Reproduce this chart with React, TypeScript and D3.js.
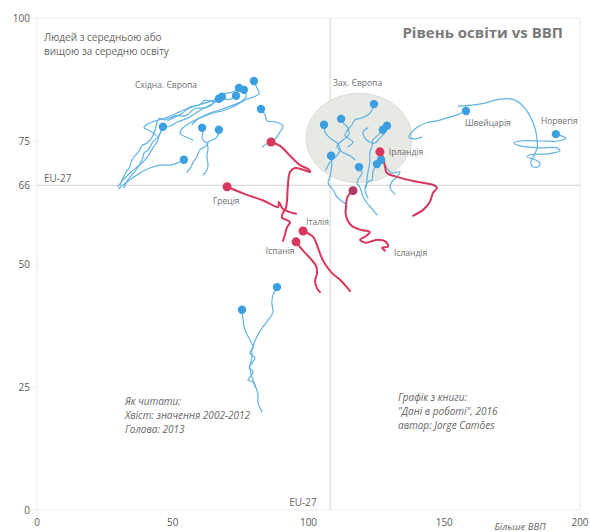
import React from "react";
import * as d3 from "d3";

type Pt = [number, number];

const xTicks = [0, 50, 100, 150, 200];
const yTicks = [0, 25, 50, 66, 75, 100];
const euGdp = 108;
const euEdu = 66;

// Red series (head = 2013 first, then tail 2012 -> 2002)
const greece: Pt[] = [[70.0, 65.7], [76.6, 64.2], [82.9, 63.0], [88.8, 61.6], [89.1, 62.6], [90.6, 61.2], [95.4, 60.2]];
const redOther: Pt[] = [[86.2, 74.8], [89.5, 74.0], [93.2, 72.0], [96.9, 70.1], [99.8, 69.3], [100.6, 68.7], [98.3, 69.1], [95.0, 69.5], [93.2, 68.7], [92.4, 65.9], [92.1, 63.0], [91.7, 61.4], [90.6, 60.4], [90.2, 59.4], [91.7, 59.0], [93.2, 58.5], [92.1, 57.5], [91.3, 55.9], [90.6, 54.7]];
const italy: Pt[] = [[98.0, 56.7], [101.7, 55.5], [103.5, 53.3], [104.6, 51.6], [106.1, 50.0], [108.6, 48.2], [111.6, 46.8], [113.8, 45.5], [115.3, 44.5]];
const spain: Pt[] = [[95.4, 54.5], [98.0, 52.7], [100.9, 51.0], [102.8, 49.6], [103.1, 48.0], [102.4, 46.6], [103.1, 45.1], [104.2, 44.3]];
const iceland: Pt[] = [[116.4, 64.9], [114.5, 63.8], [113.8, 61.8], [113.8, 59.8], [116.0, 57.7], [119.7, 56.9], [122.6, 56.5], [121.2, 55.7], [119.0, 54.9], [121.2, 54.3], [124.9, 54.9], [128.5, 54.5], [129.3, 53.5], [127.1, 53.3], [128.2, 52.7]];
const ireland: Pt[] = [[126.3, 72.8], [127.4, 71.8], [128.2, 69.7], [128.9, 68.5], [132.6, 67.7], [140.0, 66.7], [145.8, 66.1], [147.3, 65.5], [145.8, 64.4], [144.7, 62.6], [142.2, 61.0], [138.5, 59.8]];

// Blue series: Eastern Europe
const east1: Pt[] = [[79.9, 87.2], [81.0, 85.8], [81.8, 84.6], [79.9, 84.0], [77.0, 83.4], [74.0, 82.5], [71.1, 81.7], [68.1, 81.1], [64.8, 80.7], [61.9, 80.1], [58.9, 79.3], [57.1, 78.3]];
const east2: Pt[] = [[74.4, 85.8], [72.2, 85.0], [69.2, 84.6], [65.2, 83.0], [62.0, 83.3], [60.0, 82.4], [56.4, 81.9], [53.4, 80.6], [50.8, 79.9], [48.2, 79.1]];
const east3: Pt[] = [[76.2, 85.4], [77.0, 84.0], [74.8, 82.9], [71.1, 82.1], [67.4, 81.3], [63.7, 80.7], [60.0, 79.7], [56.4, 78.7], [53.8, 77.7], [52.7, 76.6], [54.9, 75.8], [57.5, 75.2]];
const east4: Pt[] = [[73.3, 84.2], [70.3, 83.4], [67.5, 83.8], [64.0, 82.2], [61.9, 81.7], [58.2, 81.6], [55.0, 80.2], [50.8, 80.1], [47.1, 79.3], [45.0, 79.6], [43.5, 77.3], [42.4, 75.8], [40.5, 74.6], [38.5, 74.0], [37.9, 73.2], [35.0, 71.2], [34.0, 69.5], [32.8, 68.7], [30.6, 66.1]];
const east5: Pt[] = [[68.1, 84.0], [65.6, 83.4], [61.9, 82.7], [58.2, 82.1], [54.1, 81.3], [50.8, 80.5], [47.5, 79.7], [43.8, 79.1], [40.9, 78.5], [39.4, 77.7], [41.6, 77.1], [43.8, 76.2]];
const east6: Pt[] = [[67.0, 83.6], [64.5, 82.5], [61.5, 81.7], [58.6, 80.7], [55.6, 79.7], [51.9, 78.9], [48.2, 77.9], [46.5, 78.2], [45.3, 76.4], [42.7, 74.8], [40.9, 73.2], [39.5, 72.6], [38.7, 71.2], [36.5, 69.1], [33.5, 67.1], [32.0, 65.5]];
const east7: Pt[] = [[82.5, 81.5], [84.0, 80.3], [84.7, 79.1], [87.7, 78.9], [90.6, 78.1], [89.5, 76.8], [87.7, 75.4], [85.1, 74.6], [82.9, 73.8]];
const east8: Pt[] = [[46.4, 77.9], [45.3, 76.6], [44.2, 74.8], [42.7, 73.6], [41.6, 72.6], [40.5, 71.6], [39.0, 70.7], [36.8, 69.7], [34.3, 68.5], [31.7, 67.1], [29.8, 65.7]];
const east9: Pt[] = [[54.1, 71.2], [51.6, 70.5], [49.0, 70.1], [45.3, 70.1], [41.6, 69.5], [37.9, 68.5], [34.3, 67.1], [31.7, 66.1], [30.2, 65.3]];
const east10: Pt[] = [[60.8, 77.7], [61.1, 76.6], [60.8, 75.6], [61.9, 74.8], [63.0, 74.6], [61.9, 73.8], [60.0, 73.2], [58.9, 71.8], [57.5, 70.7], [56.7, 69.7], [55.2, 68.7]];
const east11: Pt[] = [[67.0, 77.3], [66.3, 75.8], [64.5, 75.2], [62.6, 74.6], [63.0, 73.6], [62.6, 71.8], [63.0, 69.9], [62.2, 68.7], [61.1, 68.1]];
const low1: Pt[] = [[88.4, 45.3], [86.9, 43.7], [86.5, 42.1], [86.9, 40.1], [85.1, 38.6], [82.9, 37.0], [81.0, 35.2], [79.2, 32.5], [79.2, 31.1], [78.4, 29.1], [79.2, 27.0], [80.3, 25.4], [81.4, 23.4], [81.4, 21.8], [82.9, 19.9]];
const low2: Pt[] = [[75.5, 40.7], [75.9, 38.6], [76.6, 36.6], [78.4, 34.6], [79.6, 33.1], [78.4, 31.9], [80.3, 30.9], [79.2, 29.9], [78.1, 28.9], [79.6, 28.1], [78.4, 27.0], [77.7, 26.4], [79.6, 26.0], [80.3, 25.0]];

// Blue series: Western Europe
const west1: Pt[] = [[124.1, 82.5], [123.4, 81.3], [121.9, 80.3], [119.7, 79.7], [117.1, 79.3], [116.0, 78.3], [114.5, 77.3], [113.4, 76.2], [114.5, 75.6], [116.4, 74.8], [114.5, 73.8]];
const west2: Pt[] = [[112.0, 79.5], [113.1, 78.5], [114.5, 77.7], [114.9, 76.4], [112.7, 75.2], [110.5, 74.0], [112.3, 72.8], [115.3, 72.0], [117.1, 71.2]];
const west3: Pt[] = [[105.7, 78.3], [106.1, 76.8], [107.9, 75.6], [110.5, 74.6], [111.6, 73.2], [110.1, 71.8], [107.9, 70.7], [106.4, 69.1]];
const west4: Pt[] = [[108.3, 72.0], [108.6, 70.3], [107.9, 67.7], [107.2, 66.5], [109.0, 65.1], [110.5, 63.6], [112.7, 62.6], [114.2, 61.8], [113.4, 60.6]];
const west5: Pt[] = [[118.6, 69.7], [119.7, 68.5], [118.2, 67.1], [117.9, 66.3], [119.0, 65.5], [120.1, 63.6], [121.5, 62.4], [123.7, 61.0], [125.2, 60.0]];
const west6: Pt[] = [[125.2, 70.3], [123.7, 68.7], [123.4, 67.1], [121.9, 66.7], [120.8, 65.1], [121.9, 63.4]];
const west7: Pt[] = [[126.7, 71.2], [128.2, 70.1], [130.0, 68.7], [131.1, 68.5], [133.7, 68.7], [132.6, 67.7], [130.7, 66.7], [130.0, 65.5], [131.9, 64.2]];
const west8: Pt[] = [[128.9, 78.1], [128.2, 76.8], [126.3, 75.6], [124.5, 74.6], [122.6, 74.8], [120.8, 75.6], [120.1, 76.8], [121.9, 77.7]];
const west9: Pt[] = [[127.4, 77.3], [125.6, 76.2], [123.7, 75.2], [123.4, 73.8], [122.6, 72.8], [122.6, 70.7], [121.9, 68.7], [121.5, 67.1], [121.2, 65.5]];
const switzerland: Pt[] = [[158.0, 81.1], [154.7, 80.3], [151.0, 79.7], [147.3, 79.1], [143.6, 78.7], [140.3, 77.9], [138.1, 76.8], [137.0, 75.8], [138.9, 75.4], [141.8, 75.8]];
const norway: Pt[] = [[191.1, 76.4], [193.4, 76.0], [194.8, 75.6], [191.9, 75.0], [185.3, 75.0], [177.9, 75.0], [175.7, 74.6], [177.9, 74.0], [185.3, 73.6], [191.5, 73.6], [192.6, 73.0], [188.2, 72.4], [181.6, 72.2], [180.5, 71.8], [183.4, 71.2], [185.3, 70.5], [184.5, 69.7], [182.3, 69.9], [181.9, 70.7], [183.0, 72.0], [184.2, 73.6], [184.2, 75.2], [183.4, 77.7], [181.9, 79.7], [179.7, 81.7], [176.8, 83.1], [173.5, 83.6], [169.4, 83.4], [165.0, 82.7], [160.2, 82.3], [155.1, 82.1]];

const redSeries: Pt[][] = [greece, redOther, italy, spain, iceland, ireland];
const blueSeries: Pt[][] = [east1, east2, east3, east4, east5, east6, east7, east8, east9, east10, east11, low1, low2, west1, west2, west3, west4, west5, west6, west7, west8, west9, switzerland, norway];

// Country / group labels
const labelTexts = ["Східна. Європа", "Зах. Європа", "Швейцарія", "Норвегія", "Ірландія", "Греція", "Італія", "Іспанія", "Ісландія"];
const labelX = [36.1, 109.0, 157.6, 185.6, 129.6, 64.8, 99.1, 84.3, 131.5];
const labelY = [85.8, 86.2, 78.1, 78.5, 72.2, 62.2, 57.9, 52.0, 51.6];

// West Europe highlight ellipse: center gdp, edu and radii (data units)
const westEllipse = { cx: 118.6, cy: 75.6, rx: 19.5, ry: 9.1 };

const W = 590;
const H = 532;
const FONT = "'Open Sans', 'Noto Sans', sans-serif";

export default function App() {
  const x = d3.scaleLinear().domain([0, 200]).range([37, 580]);
  const y = d3.scaleLinear().domain([0, 100]).range([510, 18]);
  const line = d3
    .line<Pt>()
    .x((d) => x(d[0]))
    .y((d) => y(d[1]))
    .curve(d3.curveCatmullRom.alpha(0.5));

  const blueLine = "#5fb3e4";
  const blueDot = "#3c9fe0";
  const red = "#d8375c";
  const gray = "#6f6f6f";

  return (
    <svg
      width={W}
      height={H}
      style={{ position: "fixed", left: 0, top: 0, background: "#fff" }}
      fontFamily={FONT}
    >
      <rect x={0} y={0} width={W} height={H} fill="#fff" />
      <rect x={x(0)} y={y(100)} width={x(200) - x(0)} height={y(0) - y(100)} fill="none" stroke="#ececec" strokeWidth={1} />
      <line x1={x(euGdp)} x2={x(euGdp)} y1={y(100)} y2={y(0)} stroke="#dcdcdc" strokeWidth={1.2} />
      <line x1={x(0)} x2={x(200)} y1={y(euEdu)} y2={y(euEdu)} stroke="#dcdcdc" strokeWidth={1.2} />

      {yTicks.map((t) => (
        <g key={"y" + t}>
          <line x1={x(0) - 6} x2={x(0)} y1={y(t)} y2={y(t)} stroke="#eeeeee" />
          <text x={x(0) - 7} y={y(t)} dy="0.35em" textAnchor="end" fontSize={10} fill="#5a5a5a">
            {t}
          </text>
        </g>
      ))}
      {xTicks.map((t) => (
        <text key={"x" + t} x={x(t)} y={526} textAnchor="middle" fontSize={10} fill="#5a5a5a">
          {t}
        </text>
      ))}
      <text x={x(168.5)} y={530} fontSize={9.5} fontStyle="italic" fill="#666">
        Більше ВВП
      </text>

      <text x={44} y={y(euEdu) - 3.5} fontSize={10} fill="#666">EU-27</text>
      <text x={x(euGdp) - 41} y={y(0) - 4} fontSize={10} fill="#666">EU-27</text>

      <text x={563} y={38} textAnchor="end" fontSize={15} fontWeight="bold" fill="#7a7a7a">
        Рівень освіти vs ВВП
      </text>
      <text x={44} y={41} fontSize={10} fill="#666">Людей з  середньою або</text>
      <text x={44} y={55} fontSize={10} fill="#666">вищою за середню освіту</text>

      <ellipse
        cx={x(westEllipse.cx)}
        cy={y(westEllipse.cy)}
        rx={x(westEllipse.rx) - x(0)}
        ry={y(0) - y(westEllipse.ry)}
        fill="#e7e9e4"
        stroke="#dadcd6"
        strokeWidth={1}
      />

      {blueSeries.map((s, i) => (
        <path key={"bl" + i} d={line(s) || ""} fill="none" stroke={blueLine} strokeWidth={1.2} strokeLinecap="round" />
      ))}
      {redSeries.map((s, i) => (
        <path key={"rl" + i} d={line(s) || ""} fill="none" stroke={red} strokeWidth={2} strokeLinecap="round" />
      ))}
      {blueSeries.map((s, i) => (
        <circle key={"bd" + i} cx={x(s[0][0])} cy={y(s[0][1])} r={4.2} fill={blueDot} />
      ))}
      {redSeries.map((s, i) => (
        <circle key={"rd" + i} cx={x(s[0][0])} cy={y(s[0][1])} r={4.5} fill={s === iceland ? "#b33a66" : red} />
      ))}

      {labelTexts.map((t, i) => (
        <text key={"lb" + i} x={x(labelX[i])} y={y(labelY[i])} fontSize={8.5} fill={gray}>
          {t}
        </text>
      ))}

      <g fontSize={10} fontStyle="italic" fill="#666">
        <text x={125} y={405}>Як читати:</text>
        <text x={125} y={419}>Хвіст: значення 2002-2012</text>
        <text x={125} y={433}>Голова: 2013</text>
        <text x={398} y={401}>Графік з книги:</text>
        <text x={398} y={415}>"Дані в роботі", 2016</text>
        <text x={398} y={429}>автор: Jorge Camões</text>
      </g>
    </svg>
  );
}
